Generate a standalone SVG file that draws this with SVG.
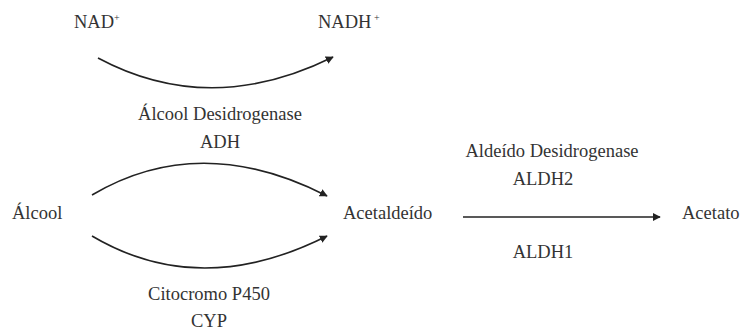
<svg xmlns="http://www.w3.org/2000/svg" width="741" height="331" viewBox="0 0 741 331">
<defs>
<style>
text{font-family:"Liberation Serif","Times New Roman",Times,serif;font-size:18.5px;fill:#333}
.c{fill:none;stroke:#222;stroke-width:1.6}
</style>
<marker id="ah" viewBox="0 0 10 10" refX="9" refY="5" markerWidth="8" markerHeight="8" markerUnits="userSpaceOnUse" orient="auto">
<path d="M0,0 L10,5 L0,10 z" fill="#222"/>
</marker>
</defs>
<rect width="741" height="331" fill="#fff"/>
<g id="nad"><text x="74" y="28">NAD<tspan font-size="10" dy="-7">+</tspan></text></g>
<g id="nadh"><text x="318" y="28">NADH<tspan font-size="10" dy="-7"> +</tspan></text></g>
<g id="adh-label"><text x="220" y="120" text-anchor="middle">Álcool Desidrogenase</text><text x="220" y="148" text-anchor="middle">ADH</text></g>
<g id="alcool"><text x="12" y="219">Álcool</text></g>
<g id="acetaldeido"><text x="343" y="219">Acetaldeído</text></g>
<g id="acetato"><text x="682" y="219">Acetato</text></g>
<g id="cyp-label"><text x="209" y="300" text-anchor="middle">Citocromo P450</text><text x="209" y="327" text-anchor="middle">CYP</text></g>
<g id="aldh-label"><text x="552" y="157" text-anchor="middle">Aldeído Desidrogenase</text><text x="543" y="185" text-anchor="middle">ALDH2</text><text x="543" y="258" text-anchor="middle">ALDH1</text></g>
<g id="connectors">
<path class="c" d="M98,58 Q210,118 333,57" marker-end="url(#ah)"/>
<path class="c" d="M92,195 Q200,131 327,196" marker-end="url(#ah)"/>
<path class="c" d="M92,236 Q200,300 327,236" marker-end="url(#ah)"/>
<path class="c" d="M463,217 L660,217" marker-end="url(#ah)"/>
</g>
</svg>
